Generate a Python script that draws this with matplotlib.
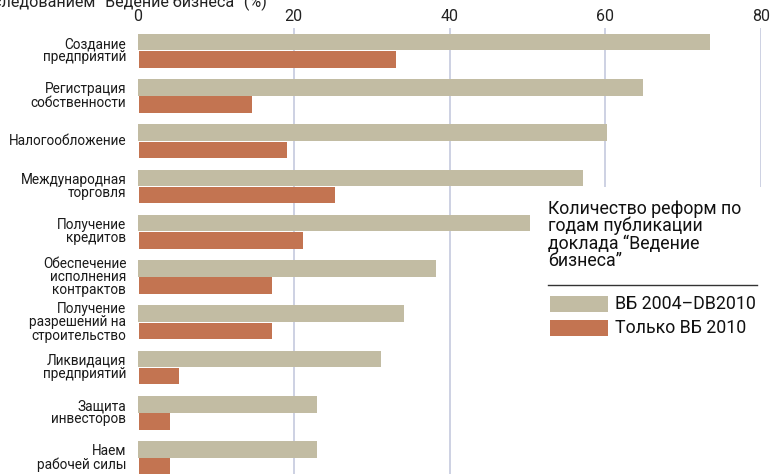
import matplotlib
matplotlib.use("Agg")
import matplotlib.pyplot as plt
from matplotlib.patches import Rectangle
from matplotlib.lines import Line2D

plt.rcParams['font.family'] = ['Roboto', 'DejaVu Sans']

categories = ["Создание\nпредприятий", "Регистрация\nсобственности", "Налогообложение",
              "Международная\nторговля", "Получение\nкредитов",
              "Обеспечение\nисполнения\nконтрактов", "Получение\nразрешений на\nстроительство",
              "Ликвидация\nпредприятий", "Защита\nинвесторов", "Наем\nрабочей силы"]
all_years = [73.5, 64.8, 60.2, 57.2, 50.3, 38.3, 34.2, 31.2, 23.0, 23.0]
only_2010 = [33.0, 14.5, 19.0, 25.1, 21.1, 17.0, 17.1, 5.1, 3.9, 3.9]
xticks = [0, 20, 40, 60, 80]
series_names = ["ВБ 2004–DB2010", "Только ВБ 2010"]
legend_title = "Количество реформ по\nгодам публикации\nдоклада “Ведение\nбизнеса”"
title = "следованием “Ведение бизнеса” (%)"

gray = "#c2bca3"
orange = "#c37451"
grid = "#c9cee0"

W, H = 775, 474
fig = plt.figure(figsize=(W/100, H/100), dpi=100)
ax = fig.add_axes([138/W, 0, (761-138)/W, (474-28)/H])

n = len(categories)
ys = list(range(n))
h = 0.365
ax.barh([y - 0.19 for y in ys], all_years, height=h, color=gray, zorder=3)
ax.barh([y + 0.19 for y in ys], only_2010, height=h, color=orange, zorder=3, left=0.15)

ax.set_xlim(0, 80)
ax.set_ylim(9.35, -0.5)
ax.set_xticks(xticks)
ax.xaxis.tick_top()
ax.tick_params(axis='x', length=0, pad=3, labelsize=11.5, labelcolor="#222222")
ax.set_yticks([])
for s in ax.spines.values():
    s.set_visible(False)
for x in xticks[1:]:
    ax.axvline(x, color=grid, lw=1.3, zorder=1)

for y, lab in zip(ys, categories):
    ax.text(-1.5, y, lab, ha='right', va='center', fontsize=9.8, color="#1a1a1a",
            linespacing=0.93, transform=ax.transData, clip_on=False)

# legend area (white box hiding gridlines)
fig.patches.append(Rectangle((540/W, 0), (W-540)/W, (H-187)/H, transform=fig.transFigure,
                             facecolor='white', edgecolor='none', zorder=5))
fig.text(548/W, 1-200/H, legend_title, ha='left', va='top', fontsize=12.8,
         linespacing=0.93, color="#111111", zorder=6)
fig.lines.append(Line2D([548/W, 757/W], [1-285/H, 1-285/H], transform=fig.transFigure,
                        color="#333333", lw=1, zorder=6))
for i, (nm, c) in enumerate(zip(series_names, [gray, orange])):
    y0 = 296 + i*24
    fig.patches.append(Rectangle((550/W, 1-(y0+16)/H), 58/W, 16/H, transform=fig.transFigure,
                                 facecolor=c, edgecolor='none', zorder=6))
    fig.text(615/W, 1-(y0+8)/H, nm, ha='left', va='center', fontsize=12.8,
             color="#111111", zorder=6)

fig.text(-7/W, 1-7/H, title, ha='left', va='baseline', fontsize=11.6, color="#222222")

fig.savefig("out.png", dpi=100)
